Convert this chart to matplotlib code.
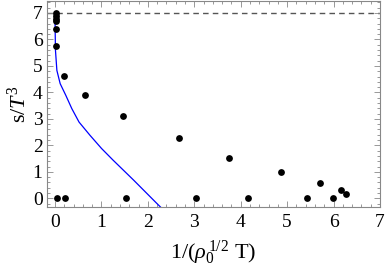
import matplotlib
matplotlib.use("Agg")
import matplotlib.pyplot as plt
from matplotlib.ticker import MultipleLocator

# Data points (scatter)
pts_x = [0.02, 0.02, 0.02, 0.02, 0.02, 0.02, 0.19, 0.64, 1.46, 2.66, 3.75, 4.86, 5.70, 6.16, 6.26,
         0.04, 0.22, 1.52, 3.04, 4.15, 5.43, 5.98]
pts_y = [6.99, 6.90, 6.77, 6.68, 6.40, 5.76, 4.63, 3.89, 3.09, 2.27, 1.54, 0.98, 0.56, 0.30, 0.16,
         0.0, 0.0, 0.0, 0.0, 0.0, 0.0, 0.0]

# Blue curve
curve_x = [0.0, 0.002, 0.009, 0.039, 0.11, 0.231, 0.360, 0.516, 0.752, 1.002, 1.25, 1.69, 2.19, 2.30]
curve_y = [7.0, 6.33, 5.58, 4.83, 4.33, 3.89, 3.39, 2.88, 2.38, 1.88, 1.44, 0.69, -0.19, -0.38]

asymptote = 7.0
xticks = [0, 1, 2, 3, 4, 5, 6, 7]
yticks = [0, 1, 2, 3, 4, 5, 6, 7]

plt.rcParams['font.family'] = ['Liberation Serif', 'DejaVu Serif']
plt.rcParams['mathtext.fontset'] = 'custom'
plt.rcParams['mathtext.rm'] = 'Liberation Serif'
plt.rcParams['mathtext.it'] = 'Liberation Serif:italic'

fig = plt.figure(figsize=(3.87, 2.67), dpi=100)
ax = fig.add_axes([0.1207, 0.2236, 0.982 - 0.1207, 0.996 - 0.2236])

ax.axhline(asymptote, color='#555555', lw=1.0, ls=(0, (4, 3)), zorder=1)
ax.plot(curve_x, curve_y, color='#0000ff', lw=0.9, zorder=2)
ax.scatter(pts_x, pts_y, s=24, color='black', zorder=3, linewidths=0)

ax.set_xlim(-0.18, 7.0)
ax.set_ylim(-0.34, 7.45)
ax.set_xticks(xticks)
ax.set_yticks(yticks)
ax.xaxis.set_minor_locator(MultipleLocator(0.2))
ax.yaxis.set_minor_locator(MultipleLocator(0.2))

grey = '#888888'
for s in ax.spines.values():
    s.set_color(grey)
    s.set_linewidth(0.8)
ax.tick_params(which='both', direction='in', top=True, right=True, color=grey, width=0.6)
ax.tick_params(which='major', length=4, labelsize=14)
ax.tick_params(axis='x', which='major', pad=5)
ax.tick_params(axis='y', which='major', pad=3)
ax.tick_params(which='minor', length=2)

ax.set_xlabel(r'1/($\rho_0^{\,1/2}$ T)', fontsize=16, labelpad=5)
ax.set_ylabel(r's/$\mathit{T}^3$', fontsize=16, labelpad=1)

fig.savefig('out.png', dpi=100)
